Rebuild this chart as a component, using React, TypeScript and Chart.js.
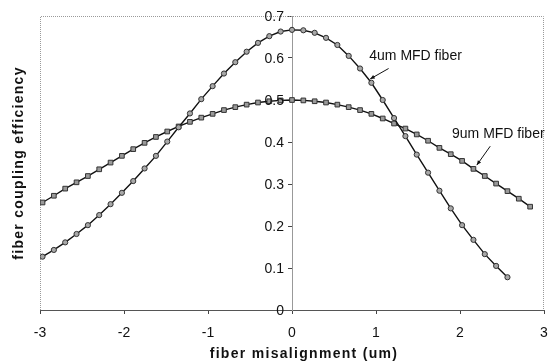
import React, { useEffect, useRef } from "react";
import { Chart, registerables } from "chart.js";

Chart.register(...registerables);

const xValues4 = [
  -2.97, -2.835, -2.7, -2.565, -2.43, -2.295, -2.16, -2.025, -1.89, -1.755, -1.62,
  -1.485, -1.35, -1.215, -1.08, -0.945, -0.81, -0.675, -0.54, -0.405, -0.27, -0.135,
  0, 0.135, 0.27, 0.405, 0.54, 0.675, 0.81, 0.945, 1.08, 1.215, 1.35, 1.485, 1.62,
  1.755, 1.89, 2.025, 2.16, 2.295, 2.43, 2.565,
];
const eff4um = [
  0.127, 0.143, 0.161, 0.181, 0.202, 0.226, 0.252, 0.279, 0.307, 0.337, 0.367,
  0.401, 0.435, 0.468, 0.502, 0.533, 0.563, 0.59, 0.615, 0.636, 0.652, 0.663,
  0.667, 0.666, 0.66, 0.648, 0.631, 0.605, 0.575, 0.541, 0.5, 0.457, 0.414, 0.37, 0.327,
  0.284, 0.242, 0.202, 0.167, 0.133, 0.105, 0.078,
];
const xValues9 = [
  -2.97, -2.835, -2.7, -2.565, -2.43, -2.295, -2.16, -2.025, -1.89, -1.755, -1.62,
  -1.485, -1.35, -1.215, -1.08, -0.945, -0.81, -0.675, -0.54, -0.405, -0.27, -0.135,
  0, 0.135, 0.27, 0.405, 0.54, 0.675, 0.81, 0.945, 1.08, 1.215, 1.35, 1.485, 1.62,
  1.755, 1.89, 2.025, 2.16, 2.295, 2.43, 2.565, 2.7, 2.835,
];
const eff9um = [
  0.256, 0.272, 0.289, 0.304, 0.319, 0.335, 0.351, 0.367, 0.383, 0.398, 0.412,
  0.425, 0.437, 0.448, 0.458, 0.467, 0.476, 0.483, 0.489, 0.494, 0.497, 0.499,
  0.5, 0.499, 0.497, 0.494, 0.489, 0.483, 0.476, 0.467, 0.456, 0.444, 0.432, 0.418, 0.403,
  0.386, 0.371, 0.355, 0.336, 0.319, 0.301, 0.283, 0.265, 0.246,
];

const seriesNames = ["4um MFD fiber", "9um MFD fiber"];
// annotation: text anchor (left, middle) and arrow from -> to, in data units
const labelPos = [
  { x: 0.92, y: 0.604 },
  { x: 1.905, y: 0.418 },
];
const arrowFrom = [
  { x: 1.15, y: 0.575 },
  { x: 2.36, y: 0.39 },
];
const arrowTo = [
  { x: 0.93, y: 0.55 },
  { x: 2.2, y: 0.345 },
];

const xTitle = "fiber misalignment (um)";
const yTitle = "fiber coupling efficiency";
const FONT = "'Liberation Sans', Arial, sans-serif";

export default function App() {
  const ref = useRef<HTMLCanvasElement | null>(null);

  useEffect(() => {
    document.body.style.margin = "0";
    const canvas = ref.current;
    if (!canvas) return;

    const decor = {
      id: "decor",
      beforeDatasetsDraw(chart: any) {
        const { ctx, chartArea } = chart;
        ctx.save();
        ctx.strokeStyle = "#9a9a9a";
        ctx.lineWidth = 1;
        ctx.setLineDash([1, 1]);
        ctx.beginPath();
        ctx.moveTo(chartArea.left + 0.5, chartArea.bottom);
        ctx.lineTo(chartArea.left + 0.5, chartArea.top + 0.5);
        ctx.lineTo(chartArea.right - 0.5, chartArea.top + 0.5);
        ctx.lineTo(chartArea.right - 0.5, chartArea.bottom);
        ctx.stroke();
        ctx.restore();
      },
      afterDatasetsDraw(chart: any) {
        const { ctx, chartArea, scales } = chart;
        const sx = scales.x;
        const sy = scales.y;
        ctx.save();
        ctx.fillStyle = "#111";
        // y tick labels, left of the centred axis
        const axisX = sx.getPixelForValue(0);
        ctx.font = `14px ${FONT}`;
        ctx.textAlign = "right";
        ctx.textBaseline = "middle";
        sy.ticks.forEach((t: any) => {
          ctx.fillText(String(+t.value.toFixed(1)), axisX - 8, sy.getPixelForValue(t.value) + 1);
        });
        // series annotations
        ctx.textAlign = "left";
        for (let i = 0; i < seriesNames.length; i++) {
          ctx.fillText(
            seriesNames[i],
            sx.getPixelForValue(labelPos[i].x),
            sy.getPixelForValue(labelPos[i].y)
          );
          const x1 = sx.getPixelForValue(arrowFrom[i].x);
          const y1 = sy.getPixelForValue(arrowFrom[i].y);
          const x2 = sx.getPixelForValue(arrowTo[i].x);
          const y2 = sy.getPixelForValue(arrowTo[i].y);
          ctx.strokeStyle = "#111";
          ctx.lineWidth = 1;
          ctx.beginPath();
          ctx.moveTo(x1, y1);
          ctx.lineTo(x2, y2);
          ctx.stroke();
          const ang = Math.atan2(y2 - y1, x2 - x1);
          const L = 5;
          ctx.beginPath();
          ctx.moveTo(x2, y2);
          ctx.lineTo(x2 - L * Math.cos(ang - 0.4), y2 - L * Math.sin(ang - 0.4));
          ctx.lineTo(x2 - L * Math.cos(ang + 0.4), y2 - L * Math.sin(ang + 0.4));
          ctx.closePath();
          ctx.fill();
        }
        // axis titles
        ctx.font = `bold 14px ${FONT}`;
        (ctx as any).letterSpacing = "1.3px";
        ctx.textAlign = "center";
        ctx.textBaseline = "middle";
        ctx.fillText(xTitle, (chartArea.left + chartArea.right) / 2 + 12, chartArea.bottom + 44);
        ctx.save();
        ctx.translate(chartArea.left - 21, (chartArea.top + chartArea.bottom) / 2);
        ctx.rotate(-Math.PI / 2);
        ctx.fillText(yTitle, 0, 0);
        ctx.restore();
        ctx.restore();
      },
    };

    const chart = new Chart(canvas, {
      type: "scatter",
      data: {
        datasets: [
          {
            label: seriesNames[0],
            data: xValues4.map((x, i) => ({ x, y: eff4um[i] })),
            showLine: true,
            borderColor: "#111",
            borderWidth: 1.4,
            pointStyle: "circle",
            pointRadius: 2.6,
            pointBackgroundColor: "#a8a8a8",
            pointBorderColor: "#333",
            pointBorderWidth: 1,
          },
          {
            label: seriesNames[1],
            data: xValues9.map((x, i) => ({ x, y: eff9um[i] })),
            showLine: true,
            borderColor: "#111",
            borderWidth: 1.4,
            pointStyle: "rect",
            pointRadius: 3.3,
            pointBackgroundColor: "#9a9a9a",
            pointBorderColor: "#333",
            pointBorderWidth: 1,
          },
        ],
      },
      options: {
        responsive: false,
        animation: false,
        layout: { padding: { left: 40, top: 16, right: 5, bottom: 0 } },
        plugins: {
          legend: { display: false },
          tooltip: { enabled: false },
        },
        scales: {
          x: {
            type: "linear",
            min: -3,
            max: 3,
            afterFit(scale: any) {
              scale.height = 52;
              scale.paddingLeft = 0;
              scale.paddingRight = 0;
            },
            ticks: {
              stepSize: 1,
              color: "#111",
              font: { family: FONT, size: 14 },
              padding: 11,
            },
            grid: {
              display: true,
              drawOnChartArea: false,
              drawTicks: true,
              tickLength: 4,
              color: "#444",
            },
            border: { display: true, color: "#555", width: 1, dash: [2, 1] },
          },
          y: {
            type: "linear",
            min: 0,
            max: 0.7,
            position: { x: 0 } as any,
            afterFit(scale: any) {
              scale.paddingTop = 0;
              scale.paddingBottom = 0;
            },
            ticks: {
              stepSize: 0.1,
              display: false,
            },
            grid: {
              display: true,
              drawOnChartArea: false,
              drawTicks: true,
              tickLength: 4,
              color: "#444",
            },
            border: { display: true, color: "#999", width: 1, dash: [1, 1] },
          },
        },
      },
      plugins: [decor],
    });

    return () => chart.destroy();
  }, []);

  return (
    <div style={{ width: 549, height: 362, background: "#fff" }}>
      <canvas ref={ref} width={549} height={362} style={{ display: "block" }} />
    </div>
  );
}
